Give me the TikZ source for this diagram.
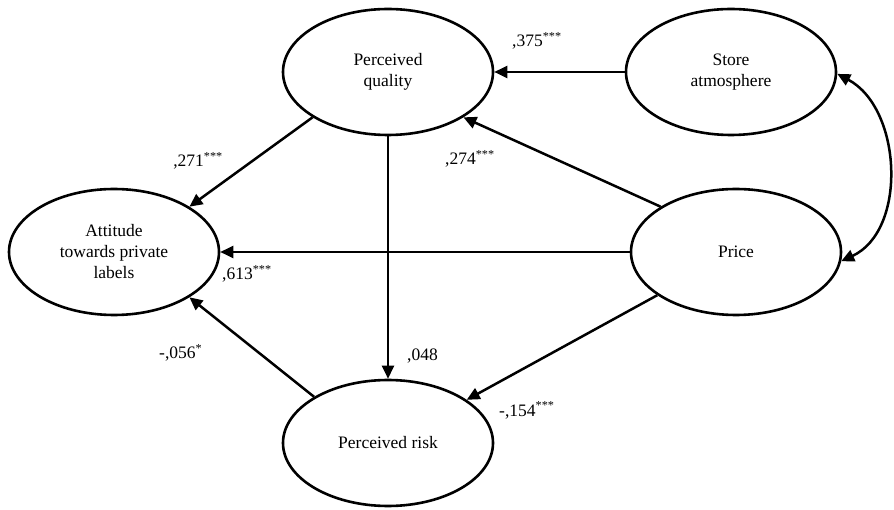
\documentclass[tikz,border=0pt]{standalone}
\usepackage{fontspec}
\setmainfont{Liberation Serif}
\usetikzlibrary{arrows.meta,shapes.geometric}
\tikzset{
  construct/.style={ellipse, draw=black, line width=2.6pt, minimum width=210pt, minimum height=126pt, inner sep=0pt, align=center, font=\fontsize{17.5}{21}\selectfont},
  coef/.style={inner sep=0pt, font=\fontsize{17.5}{21}\selectfont},
  arrow/.style={-{Triangle[length=13pt,width=12pt]}, line width=2.5pt},
  corr/.style={{Triangle[length=13pt,width=12pt]}-{Triangle[length=13pt,width=12pt]}, line width=2.5pt}
}
\begin{document}
\begin{tikzpicture}[x=1pt,y=1pt]
  \useasboundingbox (0,0) rectangle (894,509);
  \node[construct] (qual) at (388,437) {Perceived\\quality};
  \node[construct] (store) at (731,437) {Store\\atmosphere};
  \node[construct] (att) at (114,257) {Attitude\\towards private\\labels};
  \node[construct] (price) at (736,257) {Price};
  \node[construct] (risk) at (388,66) {Perceived risk};

  \draw[arrow] (store) -- (qual);
  \draw[arrow] (qual.211) -- (att.31);
  \draw[arrow] (price.149) -- (qual.-31);
  \draw[arrow] (price) -- (att);
  \draw[arrow] (qual) -- (risk);
  \draw[arrow] (risk.148) -- (att.-31);
  \draw[arrow] (price) -- (risk);
  \draw[corr] (store.-1) to[out=-28, in=25] (price.-5);

  \node[coef, anchor=base west] (l375) at (512,462) {,375\textsuperscript{***}};
  \node[coef, anchor=base east] (l271) at (223,342) {,271\textsuperscript{***}};
  \node[coef, anchor=base west] (l274) at (445,344) {,274\textsuperscript{***}};
  \node[coef, anchor=base west] (l613) at (222,229) {,613\textsuperscript{***}};
  \node[coef, anchor=base west] (l056) at (159,150) {-,056\textsuperscript{*}};
  \node[coef, anchor=base west] (l048) at (407,148) {,048};
  \node[coef, anchor=base west] (l154) at (499,93) {-,154\textsuperscript{***}};
\end{tikzpicture}
\end{document}
